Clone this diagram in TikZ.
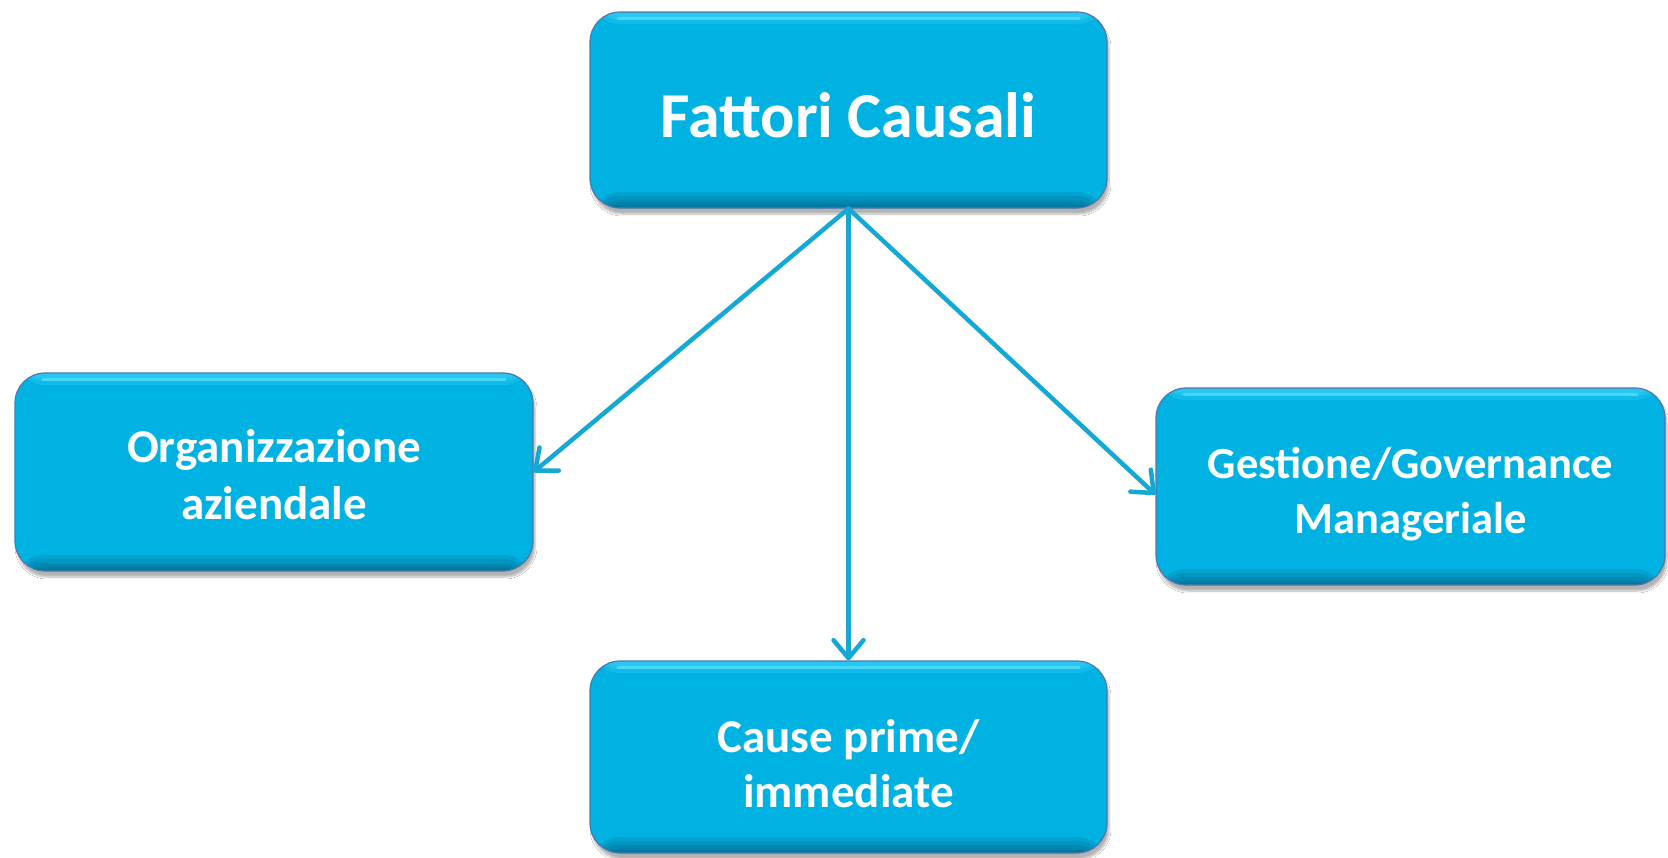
\documentclass[tikz,border=0pt]{standalone}
\usepackage{fontspec}
\setmainfont{Carlito}
\usetikzlibrary{arrows.meta,shadows.blur}
\definecolor{boxfill}{RGB}{0,178,226}
\definecolor{boxdark}{RGB}{0,90,125}
\definecolor{boxedge}{RGB}{80,120,170}
\definecolor{boxhi}{RGB}{70,215,250}
\definecolor{arrowc}{RGB}{20,168,212}
\tikzset{
  box/.style={rectangle, rounded corners=30pt, fill=boxfill, draw=boxedge,
    line width=1.2pt, text=white, font=\bfseries, align=center, inner sep=0pt,
    blur shadow={shadow xshift=2pt, shadow yshift=-6pt, shadow blur steps=8, shadow opacity=30},
    path picture={
      \foreach \h in {16,12,8,5,3}{
        \fill[boxdark, opacity=0.18]
          (path picture bounding box.south west) rectangle ([yshift=\h pt]path picture bounding box.south east);
      }
      \foreach \h in {12,8,5}{
        \fill[boxhi, opacity=0.25]
          (path picture bounding box.north west) rectangle ([yshift=-\h pt]path picture bounding box.north east);
      }
      \draw[boxhi, line width=3pt, line cap=round]
        ([xshift=28pt,yshift=-6pt]path picture bounding box.north west) -- ([xshift=-28pt,yshift=-6pt]path picture bounding box.north east);
    }},
  conn/.style={draw=arrowc, line width=4.5pt, line cap=round,
    -{Straight Barb[length=18pt,width=30pt,round]}}
}
\newcommand{\boxtext}[4]{\fontsize{#1}{#2}\selectfont\raisebox{#3}[\height][\depth]{\begin{tabular}{@{}c@{}}#4\end{tabular}}}
\begin{document}
\begin{tikzpicture}[x=1pt,y=-1pt]
\useasboundingbox[fill=white] (0,0) rectangle (1668,857);
\node[box, minimum width=517pt, minimum height=196pt] (top) at (848.5,110)
  {\boxtext{64}{70}{-13pt}{Fattori Causali}};
\node[box, minimum width=518pt, minimum height=198pt] (left) at (274,472)
  {\boxtext{47}{57}{-8pt}{Organizzazione\\aziendale}};
\node[box, minimum width=509pt, minimum height=197pt] (right) at (1410.5,486.5)
  {\boxtext{44.5}{55}{-8pt}{Gestione/Governance\\Manageriale}};
\node[box, minimum width=517pt, minimum height=192pt] (bottom) at (848.5,757)
  {\boxtext{47}{55}{-11.5pt}{Cause prime/\\immediate}};
\draw[conn] (top.south) -- (left.east);
\draw[conn] (top.south) -- (bottom.north);
\draw[conn] (top.south) -- ([yshift=-8pt]right.west);
\end{tikzpicture}
\end{document}
